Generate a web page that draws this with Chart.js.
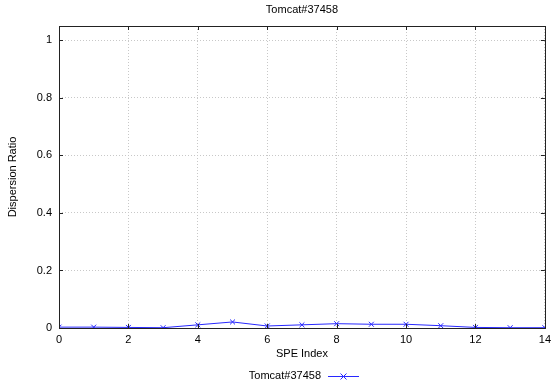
<!DOCTYPE html>
<html>
<head>
<meta charset="utf-8">
<script src="https://cdn.jsdelivr.net/npm/chart.js@4/dist/chart.umd.min.js"></script>
<style>
  html, body { margin: 0; padding: 0; background: #fff; }
  #wrap { width: 556px; height: 383px; }
</style>
</head>
<body>
<div id="wrap"><canvas id="chart"></canvas></div>
<script>
// data
const speIndex = [0, 1, 2, 3, 4, 5, 6, 7, 8, 9, 10, 11, 12, 13, 14];
const dispersion = [0.003, 0.003, 0.002, 0.001, 0.011, 0.021, 0.007, 0.011, 0.015, 0.013, 0.013, 0.008, 0.002, 0.001, 0.001];
const seriesName = 'Tomcat#37458';
const titleText = 'Tomcat#37458';
const xTitle = 'SPE Index';
const yTitle = 'Dispersion Ratio';
const yTicks = [0, 0.2, 0.4, 0.6, 0.8, 1];

const lineColor = 'rgb(40,40,255)';
const font = 'Liberation Sans, Arial, Helvetica, sans-serif';

// frame, titles and legend drawn by hand (gnuplot look)
const decorations = {
  id: 'decorations',
  afterDraw(chart) {
    const ctx = chart.ctx;
    const a = chart.chartArea;
    const xs = chart.scales.x, ys = chart.scales.y;
    ctx.save();
    // frame
    ctx.strokeStyle = '#222';
    ctx.lineWidth = 1;
    ctx.strokeRect(Math.round(a.left) + 0.5, Math.round(a.top) + 0.5,
      Math.round(a.right - a.left), Math.round(a.bottom - a.top));
    // small inward tick marks
    ctx.beginPath();
    xs.ticks.forEach(t => {
      const px = Math.round(xs.getPixelForValue(t.value)) + 0.5;
      ctx.moveTo(px, a.bottom); ctx.lineTo(px, a.bottom - 4);
      ctx.moveTo(px, a.top); ctx.lineTo(px, a.top + 4);
    });
    ys.ticks.forEach(t => {
      const py = Math.round(ys.getPixelForValue(t.value)) + 0.5;
      ctx.moveTo(a.left, py); ctx.lineTo(a.left + 4, py);
      ctx.moveTo(a.right, py); ctx.lineTo(a.right - 4, py);
    });
    ctx.stroke();

    ctx.fillStyle = '#000';
    ctx.font = '11px ' + font;
    ctx.textAlign = 'center';
    ctx.textBaseline = 'middle';
    const cx = (a.left + a.right) / 2;
    ctx.fillText(titleText, cx, 10);
    ctx.fillText(xTitle, cx, 354);
    ctx.save();
    ctx.translate(13, (a.top + a.bottom) / 2);
    ctx.rotate(-Math.PI / 2);
    ctx.fillText(yTitle, 0, 0);
    ctx.restore();

    // legend: text then line sample with cross
    const ly = 376;
    ctx.textAlign = 'right';
    ctx.fillText(seriesName, 321, ly);
    ctx.strokeStyle = lineColor;
    ctx.beginPath();
    ctx.moveTo(328, ly + 0.5); ctx.lineTo(359, ly + 0.5);
    ctx.moveTo(340.5, ly - 2.5); ctx.lineTo(346.5, ly + 3.5);
    ctx.moveTo(346.5, ly - 2.5); ctx.lineTo(340.5, ly + 3.5);
    ctx.stroke();
    ctx.restore();
  }
};

new Chart(document.getElementById('chart'), {
  type: 'line',
  data: {
    labels: speIndex,
    datasets: [{
      label: seriesName,
      data: speIndex.map((x, i) => ({ x: x, y: dispersion[i] })),
      borderColor: lineColor,
      backgroundColor: lineColor,
      borderWidth: 1,
      pointStyle: 'crossRot',
      pointRadius: 3.5,
      pointBorderWidth: 1,
      tension: 0
    }]
  },
  options: {
    responsive: true,
    maintainAspectRatio: false,
    animation: false,
    layout: { padding: { left: 0, right: 7, top: 26, bottom: 0 } },
    plugins: {
      legend: { display: false },
      title: { display: false },
      tooltip: { enabled: false }
    },
    scales: {
      x: {
        type: 'linear',
        min: 0,
        max: 14,
        ticks: { stepSize: 2, padding: 5, color: '#000', font: { family: font, size: 11 } },
        grid: { color: '#c8c8c8', drawTicks: false },
        border: { display: false, dash: [1, 2] },
        afterFit(s) { s.height = 55; }
      },
      y: {
        min: 0,
        max: 1.05,
        afterBuildTicks(s) { s.ticks = yTicks.map(v => ({ value: v })); },
        ticks: {
          padding: 7, color: '#000', font: { family: font, size: 11 },
          callback: v => String(Math.round(v * 10) / 10)
        },
        grid: { color: '#c8c8c8', drawTicks: false },
        border: { display: false, dash: [1, 2] },
        afterFit(s) { s.width = 59; }
      }
    }
  },
  plugins: [decorations]
});
</script>
</body>
</html>
